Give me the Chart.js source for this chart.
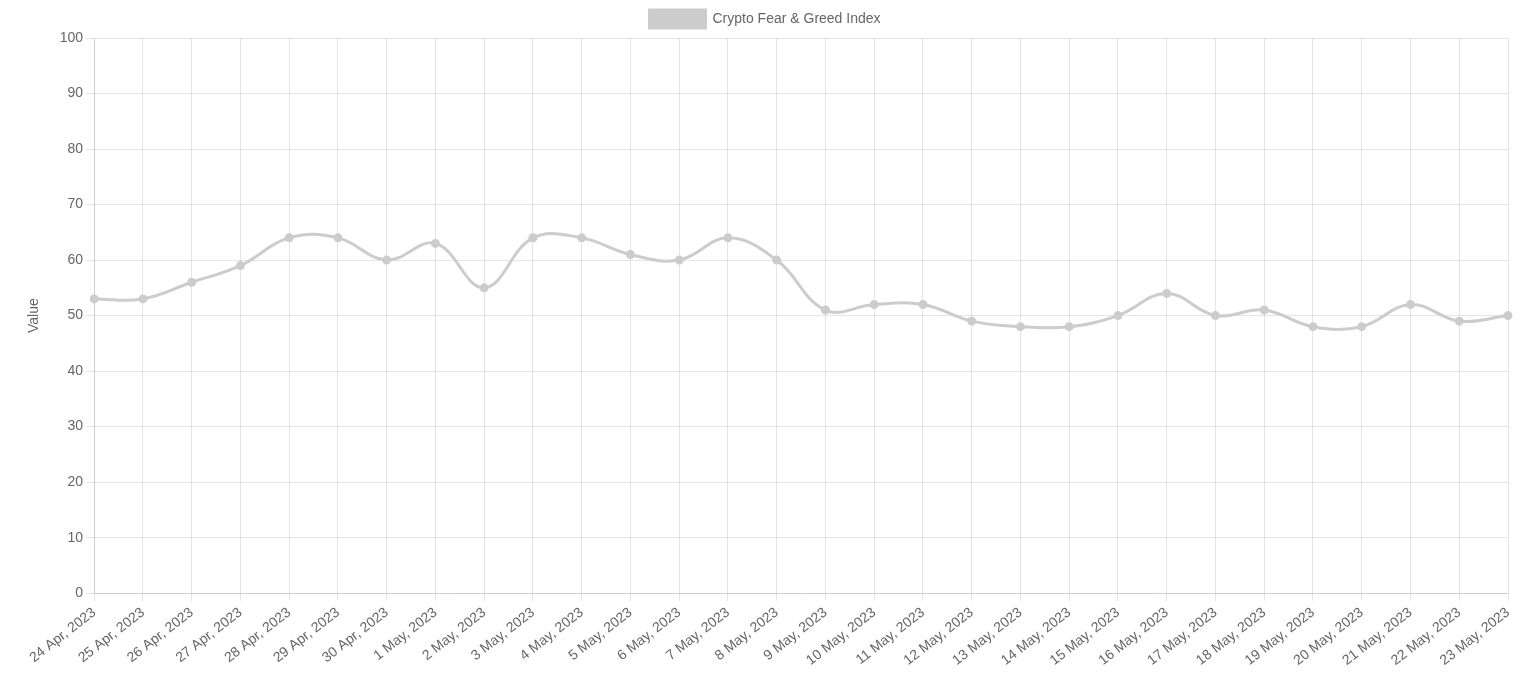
<!DOCTYPE html>
<html>
<head>
<meta charset="utf-8">
<script src="https://cdn.jsdelivr.net/npm/chart.js@4"></script>
<style>
  html, body { margin: 0; padding: 0; background: #fff; }
  #wrap { width: 1536px; height: 680px; }
</style>
</head>
<body>
<div id="wrap"><canvas id="fgChart"></canvas></div>
<script>
const labels = ['24 Apr, 2023', '25 Apr, 2023', '26 Apr, 2023', '27 Apr, 2023', '28 Apr, 2023', '29 Apr, 2023', '30 Apr, 2023',
    '1 May, 2023', '2 May, 2023', '3 May, 2023', '4 May, 2023', '5 May, 2023', '6 May, 2023', '7 May, 2023', '8 May, 2023',
    '9 May, 2023', '10 May, 2023', '11 May, 2023', '12 May, 2023', '13 May, 2023', '14 May, 2023', '15 May, 2023',
    '16 May, 2023', '17 May, 2023', '18 May, 2023', '19 May, 2023', '20 May, 2023', '21 May, 2023', '22 May, 2023', '23 May, 2023'];
const values = [53, 53, 56, 59, 64, 64, 60, 63, 55, 64, 64, 61, 60, 64, 60,
    51, 52, 52, 49, 48, 48, 50, 54, 50, 51, 48, 48, 52, 49, 50];

document.addEventListener('DOMContentLoaded', function () {
    Chart.defaults.font.family = 'Arial, "Liberation Sans", sans-serif';
    Chart.defaults.font.size = 14;
    Chart.defaults.color = '#666';

    const ctx = document.getElementById('fgChart').getContext('2d');
    new Chart(ctx, {
        type: 'line',
        data: {
            labels: labels,
            datasets: [{
                label: 'Crypto Fear & Greed Index',
                data: values,
                borderColor: 'rgba(204, 204, 204, 1)',
                backgroundColor: 'rgba(204, 204, 204, 1)',
                borderWidth: 3,
                pointRadius: 3,
                tension: 0.4
            }]
        },
        options: {
            responsive: true,
            maintainAspectRatio: false,
            animation: false,
            layout: { padding: { left: 22, right: 28, bottom: 8 } },
            plugins: {
                legend: { position: 'top', labels: { boxWidth: 56, boxHeight: 18 } }
            },
            scales: {
                x: {
                    ticks: { maxRotation: 38, minRotation: 38, autoSkip: false }
                },
                y: {
                    min: 0,
                    max: 100,
                    ticks: { stepSize: 10 },
                    title: { display: true, text: 'Value', padding: { bottom: 14 } }
                }
            }
        }
    });
});
</script>
</body>
</html>
